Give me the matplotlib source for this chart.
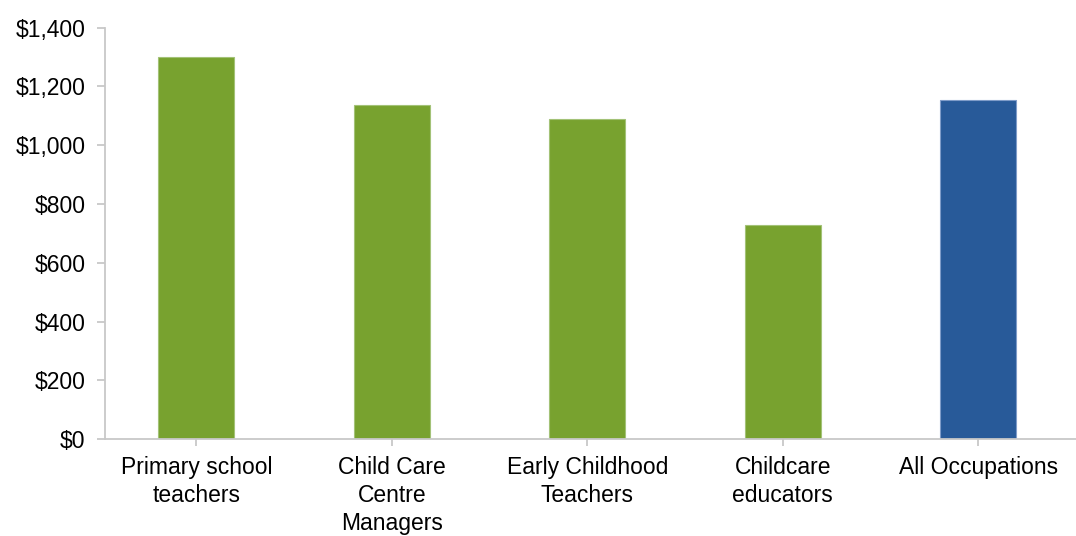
import matplotlib.pyplot as plt
from matplotlib.ticker import FuncFormatter

# Average weekly earnings by occupation
categories = ["Primary school\nteachers", "Child Care\nCentre\nManagers",
              "Early Childhood\nTeachers", "Childcare\neducators", "All Occupations"]
earnings = [1300, 1137, 1088, 729, 1153]
colors = ["#78A22F", "#78A22F", "#78A22F", "#78A22F", "#285A99"]
edges = ["#A3C277", "#A3C277", "#A3C277", "#A3C277", "#7F9CC9"]

plt.rcParams['font.family'] = ['Liberation Sans', 'DejaVu Sans']

fig = plt.figure(figsize=(10.76, 5.36), dpi=100)
ax = fig.add_axes([105 / 1076, 96.7 / 536, 971 / 1076, 411.8 / 536])

x = list(range(len(categories)))
ax.bar(x, earnings, width=0.39, color=colors, edgecolor=edges, linewidth=0.8, zorder=2)

ax.set_xlim(-0.4675, 4.5)
ax.set_ylim(0, 1400)
ax.set_yticks(range(0, 1401, 200))
ax.yaxis.set_major_formatter(FuncFormatter(lambda v, p: "${:,.0f}".format(v)))
ax.set_xticks(x)
ax.set_xticklabels(categories, linespacing=1.28)

for side in ["top", "right"]:
    ax.spines[side].set_visible(False)
for side in ["left", "bottom"]:
    ax.spines[side].set_color("#C8C8C8")
    ax.spines[side].set_linewidth(1.3)

ax.tick_params(axis="y", length=6, width=1.3, color="#C8C8C8", labelsize=16.5, pad=8)
ax.tick_params(axis="x", length=5, width=1.3, color="#C8C8C8", labelsize=16.5, pad=7)

fig.savefig("out.png", dpi=100)
